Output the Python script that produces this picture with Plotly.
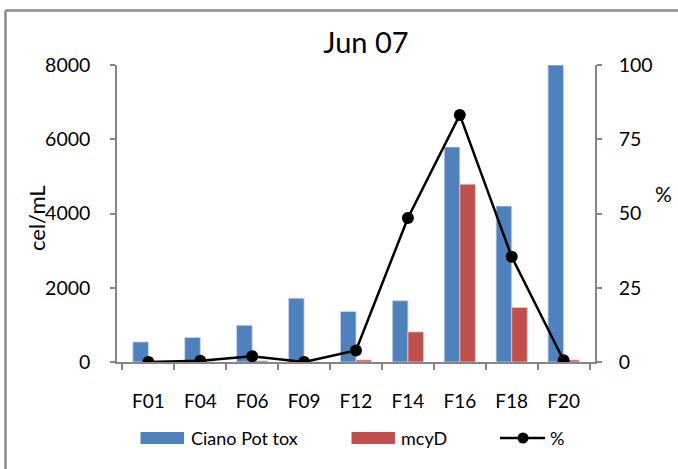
import plotly.graph_objects as go

categories = ["F01", "F04", "F06", "F09", "F12", "F14", "F16", "F18", "F20"]
ciano_pot_tox = [540, 660, 990, 1720, 1360, 1650, 5790, 4200, 8000]
mcyd = [0, 0, 30, 0, 55, 810, 4790, 1470, 55]
percent = [0, 0.4, 1.9, 0, 3.9, 48.5, 83.2, 35.4, 0.6]

FONT = "Lato"
BLUE = "#4F81BD"
RED = "#C0504D"
GRAY = "#868686"

W, H = 678, 469
L, R, T, B = 117, 83, 65, 107
pw, ph = W - L - R, H - T - B


def px(x):
    return (x - L) / pw


def py(y):
    return (H - B - y) / ph


fig = go.Figure()
fig.add_trace(go.Bar(x=categories, y=ciano_pot_tox, name="Ciano Pot tox",
                     marker=dict(color=BLUE, line=dict(color="#c9d6ea", width=0.8))))
fig.add_trace(go.Bar(x=categories, y=mcyd, name="mcyD",
                     marker=dict(color=RED, line=dict(color="#ecc9c8", width=0.8))))
fig.add_trace(go.Scatter(x=categories, y=percent, name="%", yaxis="y2",
                         mode="lines+markers",
                         line=dict(color="black", width=2.5),
                         marker=dict(color="black", size=12)))

shapes = [
    # outer frame (top and left edges visible)
    dict(type="line", xref="paper", yref="paper", x0=px(5.5), x1=px(700),
         y0=py(10.5), y1=py(10.5), line=dict(color="#8a8a8a", width=2.5)),
    dict(type="line", xref="paper", yref="paper", x0=px(5.5), x1=px(5.5),
         y0=py(10.5), y1=py(480), line=dict(color="#8a8a8a", width=2.5)),
    # legend swatches
    dict(type="rect", xref="paper", yref="paper", x0=px(140.5), x1=px(184),
         y0=py(444), y1=py(432), fillcolor=BLUE, line=dict(width=0)),
    dict(type="rect", xref="paper", yref="paper", x0=px(351.5), x1=px(395),
         y0=py(444), y1=py(432), fillcolor=RED, line=dict(width=0)),
    dict(type="line", xref="paper", yref="paper", x0=px(500), x1=px(545),
         y0=py(438), y1=py(438), line=dict(color="black", width=2.5)),
    dict(type="circle", xref="paper", yref="paper", x0=px(517.5), x1=px(528.5),
         y0=py(443.5), y1=py(432.5), fillcolor="black", line=dict(width=0)),
]

annotations = [
    dict(text="Ciano Pot tox", xref="paper", yref="paper", x=px(189), y=py(438),
         xanchor="left", yanchor="middle", showarrow=False,
         font=dict(family=FONT, size=18, color="black")),
    dict(text="mcyD", xref="paper", yref="paper", x=px(399), y=py(438),
         xanchor="left", yanchor="middle", showarrow=False,
         font=dict(family=FONT, size=18, color="black")),
    dict(text="%", xref="paper", yref="paper", x=px(548), y=py(438),
         xanchor="left", yanchor="middle", showarrow=False,
         font=dict(family=FONT, size=18, color="black")),
    dict(text="%", xref="paper", yref="paper", x=px(663), y=py(193),
         xanchor="center", yanchor="middle", showarrow=False,
         font=dict(family=FONT, size=21, color="black")),
    dict(text="cel/mL", xref="paper", yref="paper", x=px(36), y=py(218),
         xanchor="center", yanchor="middle", showarrow=False, textangle=-90,
         font=dict(family=FONT, size=22, color="black")),
]

fig.update_layout(
    width=W, height=H,
    margin=dict(l=L, r=R, t=T, b=B, pad=0),
    paper_bgcolor="white", plot_bgcolor="white",
    font=dict(family=FONT, size=19, color="black"),
    title=dict(text="Jun 07", x=px(375), xanchor="center", y=1 - 43 / H,
               yanchor="middle", font=dict(family=FONT, size=29, color="black")),
    barmode="group", bargap=0.4, bargroupgap=0,
    showlegend=False,
    xaxis=dict(type="category", showline=True, linecolor=GRAY, linewidth=1.5,
               ticks="outside", tickson="boundaries", ticklen=6, tickcolor=GRAY,
               tickwidth=1.5, showgrid=False, ticklabelstandoff=21,
               tickfont=dict(size=19)),
    yaxis=dict(range=[0, 8000], tickvals=[0, 2000, 4000, 6000, 8000],
               showline=True, linecolor=GRAY, linewidth=1.5, ticks="outside",
               ticklen=5, tickcolor=GRAY, tickwidth=1.5, showgrid=False,
               zeroline=False, ticklabelstandoff=16,
               tickfont=dict(size=19.5)),
    yaxis2=dict(range=[0, 100], tickvals=[0, 25, 50, 75, 100], overlaying="y",
                side="right", showline=True, linecolor=GRAY, linewidth=1.5,
                ticks="outside", ticklen=5, tickcolor=GRAY, tickwidth=1.5,
                showgrid=False, zeroline=False, ticklabelstandoff=13,
                tickfont=dict(size=19.5)),
    shapes=shapes,
    annotations=annotations,
)

fig.write_html("out.html")
